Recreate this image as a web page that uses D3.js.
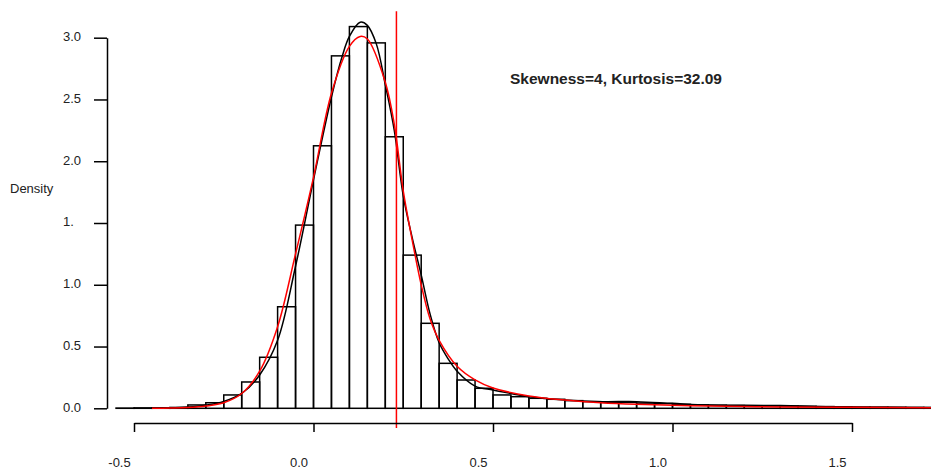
<html>
<head>
<script src="https://d3js.org/d3.v7.min.js"></script>
<style>
    body { margin: 0; background: white; }
    svg text { font-family: Arial, "Liberation Sans", Helvetica, sans-serif; font-size: 13px; fill: #222; }
</style>
</head>
<body>
<svg width="931" height="469"></svg>
<script>
// histogram: bins of width 0.05, first bin starts at -0.55
var binStart = -0.55;
var binWidth = 0.05;
var binDensity = [0.002, 0.003, 0.004, 0.007, 0.027, 0.045, 0.108, 0.213, 0.413, 0.822,
    1.483, 2.125, 2.853, 3.09, 2.958, 2.198, 1.24, 0.688, 0.364, 0.229,
    0.162, 0.108, 0.094, 0.081, 0.073, 0.062, 0.054, 0.048, 0.048, 0.042,
    0.038, 0.032, 0.028, 0.025, 0.022, 0.02, 0.02, 0.018, 0.016, 0.014,
    0.012, 0.01, 0.009, 0.008, 0.007, 0.006, 0.005];

// kernel density (black)
var kdeX = [-0.5, -0.45, -0.4, -0.35, -0.3, -0.25, -0.2, -0.15, -0.1, -0.05, 0, 0.05, 0.08, 0.1, 0.13, 0.15, 0.175, 0.2, 0.225, 0.25, 0.275, 0.3, 0.325, 0.35, 0.375, 0.4, 0.45, 0.5, 0.55, 0.6, 0.7, 0.8, 0.9, 1.0, 1.1, 1.2, 1.3, 1.4, 1.5, 1.6, 1.75];
var kdeY = [0, 0.001, 0.003, 0.01, 0.025, 0.055, 0.12, 0.27, 0.55, 1.15, 1.85, 2.52, 2.85, 3.01, 3.125, 3.10, 2.95, 2.62, 2.25, 1.72, 1.38, 1.08, 0.76, 0.53, 0.40, 0.30, 0.18, 0.148, 0.12, 0.094, 0.067, 0.054, 0.054, 0.04, 0.027, 0.024, 0.022, 0.015, 0.01, 0.008, 0.005];

// fitted density (red)
var fitX = [-0.45, -0.4, -0.35, -0.3, -0.25, -0.2, -0.15, -0.1, -0.05, 0, 0.05, 0.1, 0.13, 0.15, 0.2, 0.225, 0.25, 0.275, 0.3, 0.325, 0.35, 0.4, 0.45, 0.5, 0.6, 0.7, 0.8, 0.9, 1.0, 1.1, 1.2, 1.3, 1.5, 1.75];
var fitY = [0, 0.002, 0.006, 0.018, 0.045, 0.12, 0.30, 0.66, 1.25, 1.87, 2.55, 2.93, 3.01, 2.99, 2.64, 2.3, 1.76, 1.36, 1.0, 0.72, 0.55, 0.34, 0.23, 0.165, 0.10, 0.067, 0.045, 0.032, 0.024, 0.019, 0.014, 0.011, 0.008, 0.005];

var vlineAt = 0.231;
var xTicks = [-0.5, 0, 0.5, 1.0, 1.5];
var xTickLabels = ["-0.5", "0.0", "0.5", "1.0", "1.5"];
var yTicks = [0, 0.5, 1.0, 1.5, 2.0, 2.5, 3.0];
var yTickLabels = ["0.0", "0.5", "1.0", "1.", "2.0", "2.5", "3.0"];
var statsLabel = "Skewness=4, Kurtosis=32.09";

var svg = d3.select("svg");

var x = d3.scaleLinear().domain([-0.5, 1.5]).range([134, 852]);
var y = d3.scaleLinear().domain([0, 3]).range([408.3, 37.7]);

// bars
svg.append("g")
    .selectAll("rect")
    .data(binDensity)
    .enter()
    .append("rect")
    .attr("x", function(d, i) { return x(binStart + i * binWidth); })
    .attr("width", function(d, i) { return x(binStart + (i + 1) * binWidth) - x(binStart + i * binWidth); })
    .attr("y", function(d) { return y(d); })
    .attr("height", function(d) { return y(0) - y(d); })
    .attr("fill", "none")
    .attr("stroke", "black")
    .attr("stroke-width", 1.5);

var line = d3.line()
    .x(function(d) { return x(d[0]); })
    .y(function(d) { return y(d[1]); })
    .curve(d3.curveCatmullRom.alpha(0.5));

svg.append("path")
    .attr("d", line(d3.zip(kdeX, kdeY)))
    .attr("fill", "none")
    .attr("stroke", "black")
    .attr("stroke-width", 1.5);

svg.append("path")
    .attr("d", line(d3.zip(fitX, fitY)))
    .attr("fill", "none")
    .attr("stroke", "red")
    .attr("stroke-width", 1.5);

svg.append("line")
    .attr("x1", x(vlineAt)).attr("x2", x(vlineAt))
    .attr("y1", y(3.215)).attr("y2", y(-0.16))
    .attr("stroke", "red")
    .attr("stroke-width", 1.5);

// axes
var xAxis = d3.axisBottom(x)
    .tickValues(xTicks)
    .tickFormat(function(d, i) { return xTickLabels[i]; })
    .tickSize(9)
    .tickSizeOuter(0);

var gx = svg.append("g")
    .attr("transform", "translate(0,423)")
    .call(xAxis);
gx.selectAll("text").attr("x", -15).attr("y", 44).attr("dy", 0);

var yAxis = d3.axisLeft(y)
    .tickValues(yTicks)
    .tickFormat(function(d, i) { return yTickLabels[i]; })
    .tickSize(13)
    .tickSizeOuter(0);

var gy = svg.append("g")
    .attr("transform", "translate(107,0)")
    .call(yAxis);
gy.selectAll("text").attr("x", -44).attr("text-anchor", "start").attr("dy", "0.22em");

svg.selectAll(".domain, .tick line").attr("stroke", "black").attr("stroke-width", 1.5);
svg.selectAll(".tick text").style("font-family", "Arial, 'Liberation Sans', sans-serif").style("font-size", "13px").attr("fill", "#222");

svg.append("text")
    .attr("x", 10)
    .attr("y", 193)
    .text("Density");

svg.append("text")
    .attr("x", 616)
    .attr("y", 84)
    .attr("text-anchor", "middle")
    .style("font-weight", "bold")
    .style("font-size", "15.5px")
    .attr("fill", "black")
    .text(statsLabel);
</script>
</body>
</html>
